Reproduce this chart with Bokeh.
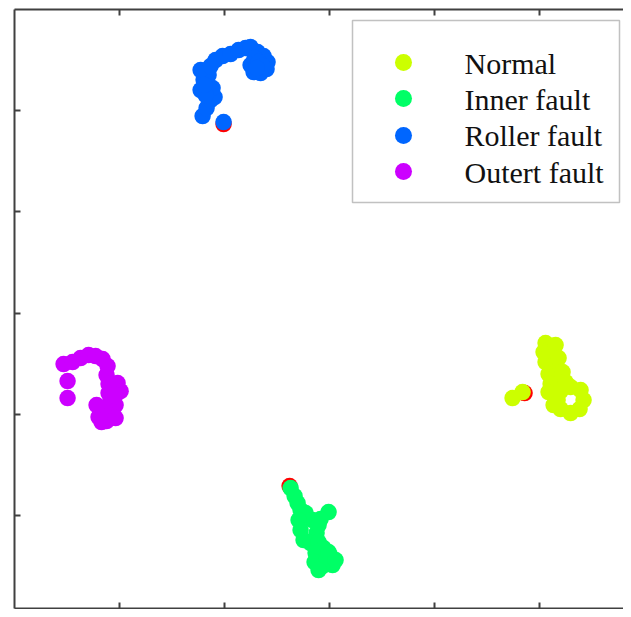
from bokeh.plotting import figure
from bokeh.models import Range1d, LinearAxis, FixedTicker, BoxAnnotation
from bokeh.core.properties import value
from bokeh.embed import file_html
from bokeh.resources import INLINE

# ---- data ----
classes = ["Normal", "Inner fault", "Roller fault", "Outert fault"]
colors = ["#CCFF00", "#00FF66", "#0066FF", "#CC00FF"]
extra_color = "#FF0000"

normal_x = [34.79, 36.69, 41.06, 40.68, 41.83, 41.06, 42.40, 41.63, 43.16, 42.02, 43.16,
            41.63, 43.35, 43.92, 45.82, 47.72, 48.29, 47.53, 45.82, 43.92, 42.59,
            42.97, 43.54, 44.30, 44.87]
normal_y = [-16.80, -15.61, -5.93, -7.71, -7.31, -9.68, -10.47, -12.06, -12.45, -14.03, -14.82,
            -15.61, -17.19, -15.42, -14.62, -15.22, -17.19, -18.97, -19.76, -18.97, -18.18,
            -6.32, -8.89, -11.66, -13.64]

inner_x = [-7.41, -6.65, -6.08, -5.51, -4.56, -0.19, -1.71, -3.23, -5.89, -5.51, -2.47, -2.09,
           -4.94, -3.61, -2.09, -1.14, -2.66, -1.71, 0.19, -2.85, -1.33, 0.57, -0.57,
           -0.19, 1.14, -2.09]
inner_y = [-34.58, -36.17, -37.55, -38.93, -39.53, -39.33, -40.71, -40.91, -40.91, -42.89, -43.48, -41.90,
           -44.86, -45.45, -45.26, -46.44, -47.43, -48.42, -48.02, -49.21, -50.00, -49.80, -48.81,
           -47.23, -48.81, -50.79]

roller_x = [-20.15, -24.14, -23.38, -22.62, -21.86, -24.52, -22.24, -23.95, -23.00, -24.52, -22.62,
            -21.67, -20.34, -18.82, -17.30, -15.97, -15.02, -13.69, -12.55, -11.79, -11.98, -13.12,
            -14.45, -15.02, -14.26, -13.50, -12.74, -13.88, -23.57, -23.76]
roller_y = [37.75, 38.93, 40.51, 42.09, 42.69, 44.07, 44.47, 46.05, 47.04, 48.02, 48.81,
            50.00, 50.79, 51.19, 51.98, 52.37, 52.57, 51.58, 50.79, 49.60, 48.22, 47.43,
            47.63, 49.01, 50.40, 49.60, 48.81, 48.42, 43.08, 45.06]

outer_x = [-49.81, -49.81, -50.57, -48.86, -47.34, -45.82, -44.49, -43.16, -42.21, -42.40, -42.02,
           -40.30, -39.73, -42.02, -41.63, -40.68, -42.78, -41.25, -43.92, -42.40, -43.35, -41.63,
           -40.68, -42.59, -40.68, -44.30]
outer_y = [-16.80, -13.44, -10.08, -9.68, -8.89, -8.30, -8.50, -9.09, -10.47, -12.25, -14.03,
           -13.83, -15.42, -15.81, -17.19, -18.18, -18.77, -19.57, -20.55, -21.34, -21.54, -20.75,
           -16.21, -19.57, -20.75, -18.18]

extra_x = [-20.15, -7.60, 37.07]
extra_y = [37.35, -34.19, -15.81]

tick_values = [-40, -20, 0, 20, 40]

# ---- layout ----
W, H = 623, 609
BL, BR, BT, BB = 14, 0, 9, 1
XS, YS = 5.26, 5.06          # pixels per data unit
FW, FH = W - BL - BR, H - BT - BB
X0 = -59.9
X1 = X0 + FW / XS
Y1 = 60.0
Y0 = Y1 - FH / YS
FL, FT = BL, BT  # frame origin in picture pixels


def dx(px):
    return X0 + (px - FL) / FW * (X1 - X0)


def dy(py):
    return Y1 - (py - FT) / FH * (Y1 - Y0)


p = figure(width=W, height=H, x_range=Range1d(X0, X1), y_range=Range1d(Y0, Y1),
           output_backend="svg", toolbar_location=None,
           min_border_left=BL, min_border_right=BR, min_border_top=BT, min_border_bottom=BB)
p.xgrid.visible = False
p.ygrid.visible = False
p.outline_line_color = None
p.background_fill_color = "white"
p.border_fill_color = "white"

top_axis = LinearAxis()
p.add_layout(top_axis, "above")

AX = "#404040"
for ax in list(p.below) + list(p.left) + [top_axis]:
    ax.ticker = FixedTicker(ticks=tick_values, minor_ticks=[])
    ax.major_tick_in = 6
    ax.major_tick_out = 0
    ax.minor_tick_in = 0
    ax.minor_tick_out = 0
    ax.major_label_text_font_size = "1px"
    ax.major_label_text_color = None
    ax.major_label_standoff = 0
    ax.axis_line_color = AX
    ax.axis_line_width = 2
    ax.major_tick_line_color = AX
    ax.major_tick_line_width = 2

S = 16.5
p.scatter(extra_x, extra_y, size=S, color=extra_color, line_color=None)
for xs, ys, c in [(normal_x, normal_y, colors[0]), (inner_x, inner_y, colors[1]),
                  (roller_x, roller_y, colors[2]), (outer_x, outer_y, colors[3])]:
    p.scatter(xs, ys, size=S, fill_color=c, line_color=None)

# ---- legend ----
box = BoxAnnotation(left=dx(352), right=dx(619), top=dy(20), bottom=dy(202),
                    fill_color="white", fill_alpha=1.0, line_color="#333333", line_width=1.5,
                    level="underlay")
p.add_layout(box)

mark_py = [62, 98, 135, 171]
base_py = [63, 99, 135, 171.5]
p.scatter([dx(403)] * 4, [dy(v) for v in mark_py], size=17, fill_color=colors, line_color=None)
p.text([dx(464)] * 4, [dy(v) for v in base_py], text=classes,
       text_font=value("Liberation Serif"), text_font_size="30px",
       text_baseline="alphabetic", text_align="left", text_color="#111111")

open("out.html", "w").write(file_html(p, INLINE))
